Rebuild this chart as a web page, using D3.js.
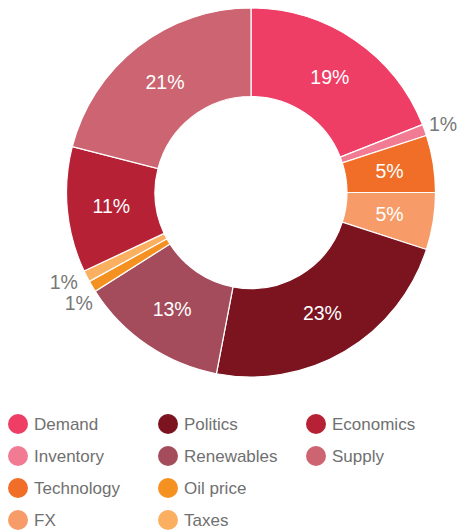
<!DOCTYPE html>
<html>
<head>
<meta charset="utf-8">
<script src="https://cdn.jsdelivr.net/npm/d3@7"></script>
<style>
  body { margin: 0; background: #fff; }
  svg text { font-family: "Liberation Sans", Arial, sans-serif; }
</style>
</head>
<body>
<div class="chart"></div>
<script>
const width = 459
const height = 532

// slices, clockwise from 12 o'clock
const categories = ['Demand', 'Inventory', 'Technology', 'FX', 'Politics', 'Renewables', 'Oil price', 'Taxes', 'Economics', 'Supply']
const values = [19, 1, 5, 5, 23, 13, 1, 1, 11, 21]
const colors = ['#ef3e66', '#f27b94', '#f06e27', '#f79c69', '#7b141f', '#a44b5c', '#f59121', '#fbaf61', '#b62135', '#cc6571']

// legend, column by column
const legendCols = [
    ['Demand', 'Inventory', 'Technology', 'FX'],
    ['Politics', 'Renewables', 'Oil price', 'Taxes'],
    ['Economics', 'Supply']
]

const cx = 251, cy = 192.5
const outerR = 184.5, innerR = 96

const data = categories.map((c, i) => ({ name: c, value: values[i] }))
const color = d3.scaleOrdinal(categories, colors)

const svg = d3.select('.chart').append('svg')
    .attr('width', width)
    .attr('height', height)
    .attr('viewBox', [0, 0, width, height])

const pie = d3.pie().value(d => d.value).sort(null)
const arc = d3.arc().innerRadius(innerR).outerRadius(outerR)
const labelArc = d3.arc().innerRadius(innerR).outerRadius(outerR)
const outArc = d3.arc().innerRadius(outerR + 12).outerRadius(outerR + 12)

const arcs = pie(data)

const g = svg.append('g').attr('transform', `translate(${cx},${cy})`)

g.selectAll('path')
    .data(arcs)
    .enter()
    .append('path')
    .attr('d', arc)
    .attr('fill', d => color(d.data.name))
    .attr('stroke', '#fff')
    .attr('stroke-width', 1.2)

// big slices get the label inside
g.selectAll('text.inside')
    .data(arcs.filter(d => d.data.value >= 3))
    .enter()
    .append('text')
    .attr('class', 'inside')
    .attr('transform', d => `translate(${labelArc.centroid(d)})`)
    .attr('text-anchor', 'middle')
    .attr('dy', '0.36em')
    .attr('fill', '#fff')
    .attr('font-size', 19.5)
    .text(d => d.data.value + '%')

// small ones outside, nudged apart a bit when they sit together
let small = arcs.filter(d => d.data.value < 3)
g.selectAll('text.outside')
    .data(small)
    .enter()
    .append('text')
    .attr('class', 'outside')
    .attr('transform', d => {
        let [x, y] = outArc.centroid(d)
        if (d.data.name === 'Oil price') { x += 11; y += 10 }
        if (d.data.name === 'Taxes') { x += 2; y += 0 }
        if (d.data.name === 'Inventory') { x -= 7; y -= 2 }
        return `translate(${x},${y})`
    })
    .attr('text-anchor', d => (d.startAngle + d.endAngle) / 2 < Math.PI ? 'start' : 'end')
    .attr('dy', '0.36em')
    .attr('fill', '#777')
    .attr('font-size', 19.5)
    .text(d => d.data.value + '%')

// legend
const colX = [18, 168, 316]
const rowY = d3.scalePoint().domain(d3.range(4)).range([424, 520])

legendCols.forEach((col, ci) => {
    const lg = svg.append('g')
    const item = lg.selectAll('g')
        .data(col)
        .enter()
        .append('g')
        .attr('transform', (d, i) => `translate(${colX[ci]},${rowY(i)})`)
    item.append('circle')
        .attr('r', 10)
        .attr('fill', d => color(d))
    item.append('text')
        .attr('x', 16)
        .attr('dy', '0.36em')
        .attr('fill', '#707070')
        .attr('font-size', 17)
        .text(d => d)
})
</script>
</body>
</html>
